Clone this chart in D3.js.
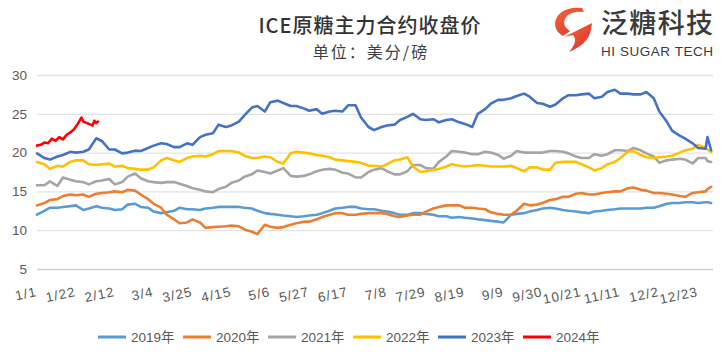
<!DOCTYPE html>
<html>
<head>
<meta charset="utf-8">
<script src="https://cdn.jsdelivr.net/npm/d3@7"></script>
<style>
  html, body { margin: 0; padding: 0; background: #fff; }
  svg { display: block; }
</style>
</head>
<body>
<svg id="chart" width="726" height="355"></svg>
<script>
// ---------- data ----------
const seriesNames = ["2019年", "2020年", "2021年", "2022年", "2023年", "2024年"];
const xTickLabels = ["1/1","1/22","2/12","3/4","3/25","4/15","5/6","5/27","6/17","7/8","7/29","8/19","9/9","9/30","10/21","11/11","12/2","12/23"];
const yTicks = [5, 10, 15, 20, 25, 30];
// day of year (0 = 1/1) for the twice-weekly samples
const days = [0,4,7,11,14,18,21,25,28,32,35,39,42,46,49,53,56,60,63,67,70,74,77,81,84,88,91,95,98,102,105,109,112,116,119,123,126,130,133,137,140,144,147,151,154,158,161,165,168,172,175,179,182,186,189,193,196,200,203,207,210,214,217,221,224,228,231,235,238,242,245,249,252,256,259,263,266,270,273,277,280,284,287,291,294,298,301,305,308,312,315,319,322,326,329,333,336,340,343,347,350,354,357,361,362,364];
const v2019 = [12.0,12.5,12.9,12.9,13.0,13.1,13.2,12.6,12.8,13.1,12.9,12.8,12.6,12.7,13.3,13.4,13.0,12.9,12.4,12.2,12.3,12.5,12.9,12.7,12.7,12.6,12.8,12.9,13.0,13.0,13.0,13.0,12.9,12.8,12.5,12.2,12.1,12.0,11.9,11.8,11.7,11.8,11.9,12.0,12.2,12.5,12.8,12.9,13.0,13.0,12.8,12.7,12.7,12.5,12.4,12.2,12.0,12.0,12.2,12.2,12.1,12.0,11.8,11.8,11.6,11.7,11.6,11.5,11.4,11.3,11.2,11.1,11.0,12.0,12.1,12.2,12.4,12.6,12.8,12.9,12.8,12.6,12.5,12.4,12.3,12.2,12.4,12.5,12.6,12.7,12.8,12.8,12.8,12.8,12.9,12.9,13.1,13.4,13.5,13.5,13.6,13.6,13.5,13.6,13.6,13.5];
const v2020 = [13.2,13.5,13.9,14.0,14.4,14.6,14.5,14.6,14.3,14.7,14.8,14.9,15.0,14.9,15.2,15.1,14.6,14.0,13.4,12.9,12.0,11.4,10.9,11.0,11.4,11.0,10.3,10.4,10.45,10.5,10.6,10.5,10.1,9.8,9.5,10.7,10.45,10.3,10.4,10.7,10.9,11.1,11.1,11.4,11.7,12.0,12.2,12.2,12.0,12.0,12.1,12.2,12.2,12.2,12.1,11.8,11.7,11.9,12.0,12.0,12.4,12.8,13.0,13.2,13.2,13.2,12.9,12.9,12.8,12.7,12.3,12.1,12.0,12.0,12.5,13.4,13.2,13.3,13.5,13.9,14.0,14.3,14.3,14.7,14.8,14.6,14.6,14.8,14.9,15.0,15.0,15.4,15.5,15.2,15.1,14.8,14.8,14.7,14.6,14.4,14.3,14.8,14.9,15.0,15.3,15.6];
const v2021 = [15.8,15.8,16.3,15.7,16.8,16.5,16.3,16.2,15.9,16.3,16.4,16.6,15.9,16.2,16.9,17.3,16.7,16.3,16.2,16.1,16.2,16.2,16.0,15.7,15.4,15.2,15.0,14.9,15.3,15.6,16.1,16.4,16.9,17.2,17.7,17.5,17.3,17.7,18.0,17.0,16.9,17.0,17.2,17.6,17.8,17.9,17.8,17.4,17.3,16.8,16.8,17.5,17.8,18.0,17.6,17.2,17.2,17.6,18.4,18.4,18.0,17.9,18.8,19.5,20.2,20.1,20.0,19.8,19.8,20.1,20.0,19.7,19.2,19.6,20.2,20.0,20.0,20.0,20.0,20.2,20.2,20.1,19.9,19.5,19.3,19.3,19.8,19.6,19.8,20.3,20.3,20.2,20.6,20.3,19.9,19.5,18.7,19.0,19.1,19.2,19.1,18.6,19.3,19.3,18.9,18.8];
const v2022 = [18.8,18.5,17.9,18.3,18.2,18.8,19.0,19.0,18.5,18.4,18.5,18.6,18.2,18.3,18.0,17.9,17.8,17.8,18.1,19.0,19.3,19.0,18.8,19.3,19.5,19.6,19.5,19.8,20.2,20.2,20.2,20.0,19.6,19.3,19.3,19.5,19.4,18.8,18.6,19.9,20.1,20.0,19.9,19.7,19.6,19.4,19.1,19.0,18.9,18.8,18.7,18.3,18.3,18.2,18.5,19.0,19.1,19.4,18.2,17.5,17.6,17.75,17.9,18.2,18.5,18.3,18.2,18.3,18.4,18.3,18.2,18.2,18.2,18.3,18.0,17.6,18.1,18.1,17.8,17.8,18.7,18.8,18.8,18.8,18.5,18.1,17.7,18.0,18.5,18.8,19.3,20.1,20.2,19.7,19.4,19.3,19.4,19.5,19.6,20.0,20.3,20.5,21.0,20.6,20.4,20.1];
const v2023 = [19.9,19.3,19.1,19.5,19.7,20.1,20.0,20.1,20.4,21.85,21.5,20.4,20.4,19.9,20.0,20.25,20.2,20.6,20.9,21.2,21.1,20.7,20.7,21.2,21.0,22.0,22.3,22.5,23.6,23.3,23.5,24.0,24.8,25.8,26.0,25.3,26.5,26.7,26.4,26.0,26.0,25.7,25.4,25.6,25.0,25.3,25.4,25.3,26.1,26.1,24.5,23.3,22.9,23.3,23.5,23.6,24.2,24.6,25.0,24.3,24.2,24.3,23.9,24.2,24.3,23.9,23.7,23.3,25.0,25.6,26.3,26.8,26.8,27.0,27.3,27.6,27.2,26.4,26.3,25.9,26.2,27.0,27.4,27.4,27.5,27.6,27.0,27.2,27.8,28.1,27.6,27.6,27.5,27.5,27.8,27.0,25.3,24.0,22.8,22.2,21.8,21.2,20.6,20.5,22.0,20.3];
const days2024 = [0,2,4,6,8,10,12,14,16,18,20,22,24,25,27,29,30,31,32,33];
const v2024 = [20.9,21.0,21.3,21.2,21.8,21.5,22.0,21.7,22.3,22.6,23.0,23.7,24.5,24.0,23.8,23.6,23.5,24.1,23.8,24.0];
const colors = ["#5B9BD5", "#ED7D31", "#A5A5A5", "#FFC000", "#4472C4", "#FF0000"];

const series = [
  { name: seriesNames[0], d: days, v: v2019 },
  { name: seriesNames[1], d: days, v: v2020 },
  { name: seriesNames[2], d: days, v: v2021 },
  { name: seriesNames[3], d: days, v: v2022 },
  { name: seriesNames[4], d: days, v: v2023 },
  { name: seriesNames[5], d: days2024, v: v2024 }
];

// ---------- layout ----------
const svg = d3.select("#chart");
const pL = 37, pR = 713, pT = 75, pB = 269;
const x = d3.scaleLinear().domain([0, 365]).range([pL, pR]);
const y = d3.scaleLinear().domain([5, 30]).range([pB, pT]);
const textCol = "#595959";
const font = "Arial, 'Liberation Sans', 'Noto Sans CJK SC', sans-serif";

// gridlines + y labels
const yAxis = d3.axisLeft(y).tickValues(yTicks).tickSize(-(pR - pL)).tickPadding(10);
const gy = svg.append("g").attr("transform", `translate(${pL},0)`).call(yAxis);
gy.select(".domain").remove();
gy.selectAll(".tick line").attr("stroke", d => d === 5 ? "#d0d0d0" : "#e3e3e3").attr("stroke-width", 1.3);
gy.selectAll(".tick text").attr("fill", textCol).attr("font-size", 13.5).attr("font-family", font);

// x labels (rotated)
const base = new Date(2024, 0, 1);
const tickDays = xTickLabels.map(s => {
  const [m, dd] = s.split("/").map(Number);
  return d3.timeDay.count(base, new Date(2024, m - 1, dd));
});
const xAxis = d3.axisBottom(x).tickValues(tickDays).tickFormat((d, i) => xTickLabels[i]).tickSize(0);
const gx = svg.append("g").attr("transform", `translate(0,${pB})`).call(xAxis);
gx.select(".domain").remove();
gx.selectAll(".tick text")
  .attr("fill", textCol).attr("font-size", 13.5).attr("font-family", font)
  .attr("letter-spacing", "1px")
  .attr("text-anchor", "end")
  .attr("y", 0).attr("dy", 0)
  .attr("transform", "translate(0,27) rotate(-12)");

// lines
const line = d3.line().x(p => x(p[0])).y(p => y(p[1]));
series.forEach((s, i) => {
  const pts = s.d.map((dd, k) => [dd, s.v[k]]);
  svg.append("path").datum(pts)
    .attr("d", line)
    .attr("fill", "none")
    .attr("stroke", colors[i])
    .attr("stroke-width", 2.6)
    .attr("stroke-linejoin", "round")
    .attr("stroke-linecap", "round");
});

// legend
const lg = svg.append("g");
const legX0 = 98, legStep = 85, legY = 337;
seriesNames.forEach((n, i) => {
  const gx0 = legX0 + i * legStep;
  lg.append("line").attr("x1", gx0).attr("x2", gx0 + 28).attr("y1", legY).attr("y2", legY)
    .attr("stroke", colors[i]).attr("stroke-width", 3);
  lg.append("text").attr("x", gx0 + 33).attr("y", legY + 5)
    .attr("fill", textCol).attr("font-size", 13.5).attr("font-family", font).text(n);
});

// title
svg.append("text").attr("x", 370).attr("y", 33).attr("text-anchor", "middle")
  .attr("fill", "#333333").attr("font-size", 20).attr("font-weight", 500).attr("letter-spacing", "1px")
  .attr("font-family", "'Noto Sans CJK SC', sans-serif").text("ICE原糖主力合约收盘价");
svg.append("text").attr("x", 371).attr("y", 58).attr("text-anchor", "middle")
  .attr("fill", "#404040").attr("font-size", 16).attr("letter-spacing", "2px")
  .attr("font-family", "'Noto Sans CJK SC', sans-serif").text("单位：美分/磅");

// logo
const defs = svg.append("defs");
const grad = defs.append("linearGradient").attr("id", "lg1").attr("x1", "0").attr("y1", "0").attr("x2", "1").attr("y2", "1");
grad.append("stop").attr("offset", "0").attr("stop-color", "#f26a3d");
grad.append("stop").attr("offset", "1").attr("stop-color", "#d8302a");
const logo = svg.append("g");
logo.append("path").attr("fill", "url(#lg1)")
  .attr("d", "M582,8 C567,6 556,13 555,23 C555,29 558,33 563,36 L570,31 C565,28 563,24 565,19 C568,13 575,11 584,12 Z");
logo.append("path").attr("fill", "url(#lg1)")
  .attr("d", "M564,37 L592,23 L591,30 C589,40 581,47 569,52 C575,45 577,40 573,35 Z");
logo.append("text").attr("x", 601).attr("y", 33).attr("fill", "#3a3a3a")
  .attr("font-size", 27).attr("font-weight", 500).attr("font-family", "'Noto Sans CJK SC', sans-serif")
  .attr("textLength", 112).text("泛糖科技");
logo.append("text").attr("x", 601).attr("y", 56).attr("fill", "#3a3a3a")
  .attr("font-size", 13.5).attr("font-family", "Arial, 'Liberation Sans', sans-serif")
  .attr("textLength", 112).text("HI SUGAR TECH");
</script>
</body>
</html>
